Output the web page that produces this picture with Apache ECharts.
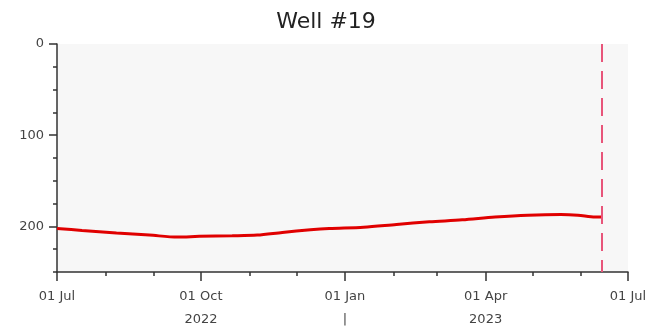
<!DOCTYPE html>
<html>
<head>
<meta charset="utf-8">
<script src="https://cdn.jsdelivr.net/npm/echarts@6/dist/echarts.min.js"></script>
<style>
html,body{margin:0;padding:0;background:#fff;}
#chart{width:652px;height:326px;}
</style>
</head>
<body>
<div id="chart"></div>
<script>
const titleText = 'Well #19';
const dates = ['2022-07-01','2022-07-17','2022-08-08','2022-08-29','2022-09-16','2022-09-30','2022-10-21','2022-11-06','2022-11-22','2022-12-10','2022-12-22','2023-01-13','2023-02-03','2023-02-24','2023-03-17','2023-04-07','2023-04-28','2023-05-19','2023-05-30','2023-06-10','2023-06-14'];
const depth = [202.2,204.4,207.3,209.5,211.7,210.9,210.3,209.5,206.6,203.7,202.3,200.8,197.8,195.0,192.8,189.8,187.7,186.9,187.7,189.8,189.8];
const markerDate = '2023-06-14';
const monthTicks = ['2022-07-01','2022-08-01','2022-09-01','2022-10-01','2022-11-01','2022-12-01','2023-01-01','2023-02-01','2023-03-01','2023-04-01','2023-05-01','2023-06-01','2023-07-01'];
const quarterTicks = ['2022-07-01','2022-10-01','2023-01-01','2023-04-01','2023-07-01'];
const quarterLabels = ['01 Jul','01 Oct\n2022','01 Jan\n|','01 Apr\n2023','01 Jul'];
const yLabelValues = [0,100,200];

const ts = s => new Date(s + 'T00:00:00Z').getTime();
const xMin = ts('2022-07-01'), xMax = ts('2023-07-01');
const labelMap = {};
quarterTicks.forEach((d,i)=>{ labelMap[ts(d)] = quarterLabels[i]; });

const chart = echarts.init(document.getElementById('chart'), null, {renderer:'canvas'});
const font = 'DejaVu Sans';
chart.setOption({
  animation:false,
  backgroundColor:'#ffffff',
  title:{text:titleText,left:'center',top:6,
    textStyle:{fontFamily:font,fontSize:22,fontWeight:'normal',color:'#222'}},
  grid:{left:57,right:24,top:44,bottom:54,show:true,backgroundColor:'#f7f7f7',borderWidth:0,
    outerBoundsMode:'none',containLabel:false},
  xAxis:[{
    type:'value',min:xMin,max:xMax,position:'bottom',scale:true,
    axisLine:{show:true,onZero:false,lineStyle:{color:'#333',width:1.5}},
    axisTick:{show:true,customValues:monthTicks.map(ts),length:4,inside:false,lineStyle:{color:'#333',width:1.5}},
    axisLabel:{show:true,customValues:quarterTicks.map(ts),
      formatter:v=>labelMap[v] || '',
      fontFamily:font,fontSize:13,color:'#444',lineHeight:23,margin:13,
      showMinLabel:true,showMaxLabel:true,hideOverlap:false},
    splitLine:{show:false}
  },{
    type:'value',min:xMin,max:xMax,position:'bottom',scale:true,
    axisLine:{show:false,onZero:false},
    axisTick:{show:true,customValues:quarterTicks.map(ts),length:9,inside:false,lineStyle:{color:'#333',width:1.5}},
    axisLabel:{show:false},
    splitLine:{show:false}
  }],
  yAxis:[{
    type:'value',inverse:true,min:0,max:250,interval:25,position:'left',
    axisLine:{show:true,onZero:false,lineStyle:{color:'#333',width:1.5}},
    axisTick:{show:true,length:4,lineStyle:{color:'#333',width:1.5}},
    axisLabel:{show:true,customValues:yLabelValues,fontFamily:font,fontSize:13,color:'#444',margin:13},
    splitLine:{show:false}
  },{
    type:'value',inverse:true,min:0,max:250,position:'left',
    axisLine:{show:false,onZero:false},
    axisTick:{show:true,customValues:yLabelValues,length:8,lineStyle:{color:'#333',width:1.5}},
    axisLabel:{show:false},
    splitLine:{show:false}
  }],
  series:[{
    type:'line',xAxisIndex:0,yAxisIndex:0,
    data:dates.map((d,i)=>[ts(d),depth[i]]),
    showSymbol:false,smooth:0.3,
    lineStyle:{color:'#e00000',width:3},
    markLine:{
      symbol:['none','none'],silent:true,
      label:{show:false},
      lineStyle:{color:'#e8557a',type:[18,9],width:2},
      data:[{xAxis:ts(markerDate)}]
    }
  }]
});
</script>
</body>
</html>
